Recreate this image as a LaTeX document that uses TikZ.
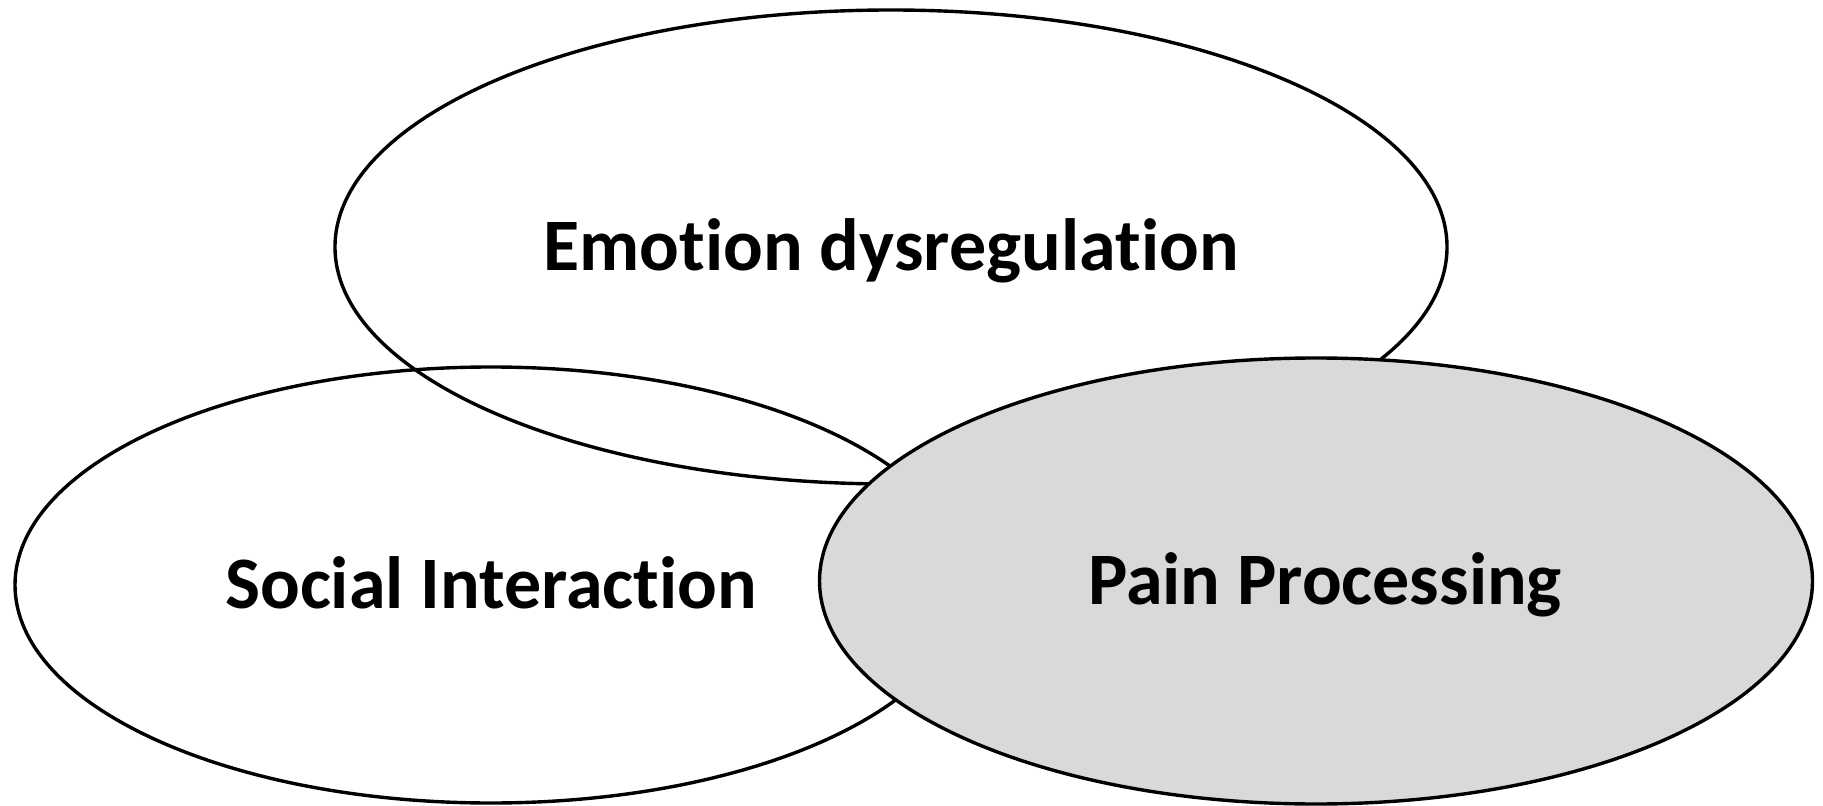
\documentclass[tikz,border=0pt]{standalone}
\usepackage{fontspec}
\setmainfont{Carlito}[RawFeature=-liga]
\usetikzlibrary{shapes.geometric}

\begin{document}
\begin{tikzpicture}[x=0.5pt,y=0.5pt,yscale=-1,xscale=1,
  blob/.style={ellipse,draw=black,line width=1.7pt,inner sep=0pt,
    font=\fontsize{37}{44}\selectfont\bfseries,
    text height=23.5pt,text depth=0pt},
  greyblob/.style={blob,fill={rgb,255:red,217;green,217;blue,217}}]
%set diagram size
\useasboundingbox (0,0) rectangle (1823,806);

%Shape: Ellipse, top
\node [blob,minimum width=556pt,minimum height=237pt] (emotion) at (891,247) {Emotion dysregulation};
%Shape: Ellipse, left
\node [blob,minimum width=476pt,minimum height=218pt] (social) at (491,585) {Social Interaction};
%Shape: Ellipse, right (filled, on top)
\node [greyblob,minimum width=496.5pt,minimum height=223pt] (pain) at (1316,581) {\hspace*{9pt}Pain Processing};

\end{tikzpicture}
\end{document}
